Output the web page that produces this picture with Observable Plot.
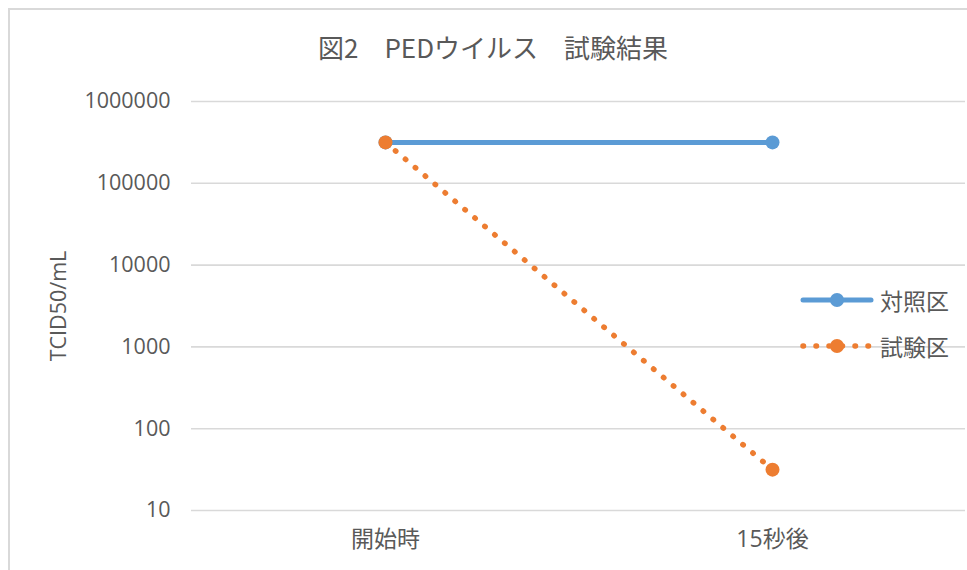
<!DOCTYPE html>
<html>
<head>
<meta charset="utf-8">
<script src="https://cdn.jsdelivr.net/npm/d3@7"></script>
<script src="https://cdn.jsdelivr.net/npm/@observablehq/plot@0.6"></script>
<style>
  html, body { margin: 0; padding: 0; background: #fff; }
  #wrap { position: relative; width: 967px; height: 570px; overflow: hidden; font-family: "Noto Sans CJK JP", "Open Sans", sans-serif; color: #595959; }
  #border { position: absolute; left: 8px; top: 8px; width: 1000px; height: 1000px; border-left: 2px solid #d9d9d9; border-top: 2px solid #d9d9d9; box-sizing: border-box; }
  #title { position: absolute; left: 0; width: 986px; top: 28px; text-align: center; font-size: 26px; color: #595959; white-space: pre; }
  #legend { position: absolute; left: 800px; top: 277px; }
  .item { display: flex; align-items: center; height: 46px; font-size: 23px; color: #595959; }
  .item svg { margin-right: 4px; }
  #chart { position: absolute; left: 0; top: 0; }
</style>
</head>
<body>
<div id="wrap">
  <div id="border"></div>
  <div id="chart"></div>
  <div id="title"></div>
  <div id="legend"></div>
</div>
<script>
const titleText = "図2　PEDウイルス　試験結果";
const yLabel = "TCID50/mL";
const categories = ["開始時", "15秒後"];
const seriesNames = ["対照区", "試験区"];
const controlValues = [316228, 316228];
const testValues = [316228, 31.6];
const yTicks = [10, 100, 1000, 10000, 100000, 1000000];
const colors = ["#5B9BD5", "#ED7D31"];

const control = categories.map((c, i) => ({cat: c, value: controlValues[i]}));
const test = categories.map((c, i) => ({cat: c, value: testValues[i]}));

document.getElementById("title").textContent = titleText;

const chart = Plot.plot({
  width: 967,
  height: 570,
  marginLeft: 191,
  marginRight: 2,
  marginTop: 101,
  marginBottom: 60,
  style: {fontFamily: "'Open Sans', 'Noto Sans CJK JP', sans-serif", fontSize: "20px", color: "#595959", background: "transparent"},
  x: {type: "point", domain: categories, padding: 0.5, label: null},
  y: {type: "log", domain: [10, 1000000], label: yLabel},
  marks: [
    Plot.gridY(yTicks, {stroke: "#d9d9d9", strokeOpacity: 1, strokeWidth: 1.6}),
    Plot.axisY(yTicks, {tickSize: 0, tickPadding: 21, tickFormat: d3.format("d"), fontSize: 21.5, label: yLabel, labelAnchor: "center", labelArrow: "none", labelOffset: 141}),
    Plot.axisX({tickSize: 0, tickPadding: 20, fontSize: 23, label: null}),
    Plot.lineY(control, {x: "cat", y: "value", stroke: colors[0], strokeWidth: 5}),
    Plot.dot(control, {x: "cat", y: "value", r: 7, fill: colors[0]}),
    Plot.lineY(test, {x: "cat", y: "value", stroke: colors[1], strokeWidth: 5.5, strokeDasharray: "0.5 12.5", strokeLinecap: "round"}),
    Plot.dot(test, {x: "cat", y: "value", r: 7, fill: colors[1]})
  ]
});
document.getElementById("chart").appendChild(chart);

const legend = document.getElementById("legend");
seriesNames.forEach((name, i) => {
  const item = document.createElement("div");
  item.className = "item";
  const dashed = i === 1;
  item.innerHTML = `<svg width="76" height="16"><line x1="3" y1="8" x2="71" y2="8" stroke="${colors[i]}" stroke-width="${dashed ? 5.5 : 5}" stroke-linecap="round" ${dashed ? 'stroke-dasharray="0.5 12.5"' : ''}/><circle cx="37" cy="8" r="7" fill="${colors[i]}"/></svg><span>${name}</span>`;
  legend.appendChild(item);
});
</script>
</body>
</html>
